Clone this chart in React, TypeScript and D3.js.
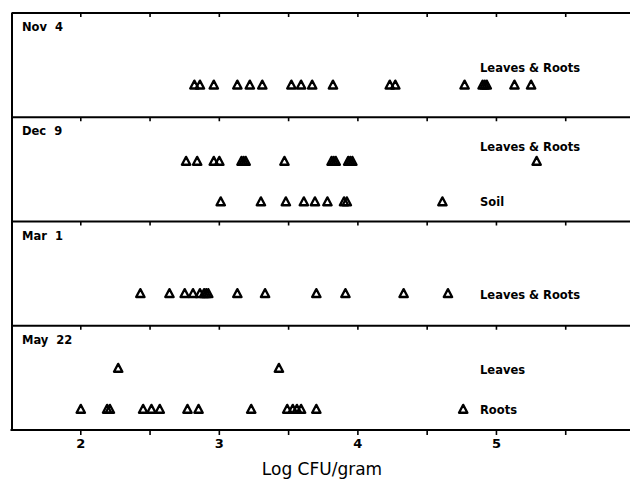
import React from "react";
import * as d3 from "d3";

// ---- data (Log CFU/gram) ----
const panelNames = ["Nov 4", "Dec 9", "Mar 1", "May 22"];
const tickValues = [2, 2.5, 3, 3.5, 4, 4.5, 5, 5.5, 6];
const tickLabels = ["2", "3", "4", "5"];

const nov4LeavesRoots = [2.82, 2.86, 2.96, 3.13, 3.22, 3.31, 3.52, 3.59, 3.67, 3.82, 4.23, 4.27, 4.77, 4.9, 4.915, 4.93, 5.13, 5.25];
const dec9LeavesRoots = [2.76, 2.84, 2.96, 3.0, 3.16, 3.175, 3.19, 3.47, 3.81, 3.825, 3.84, 3.93, 3.945, 3.96, 5.29];
const dec9Soil = [3.01, 3.3, 3.48, 3.61, 3.69, 3.78, 3.9, 3.92, 4.61];
const mar1LeavesRoots = [2.43, 2.64, 2.75, 2.81, 2.86, 2.89, 2.905, 2.92, 3.13, 3.33, 3.7, 3.91, 4.33, 4.65];
const may22Leaves = [2.27, 3.43];
const may22Roots = [2.0, 2.19, 2.21, 2.45, 2.51, 2.57, 2.77, 2.85, 3.23, 3.49, 3.53, 3.56, 3.59, 3.7, 4.76];

// rows: panel index, label, values
const rows = [
  { panel: 0, label: "Leaves & Roots", values: nov4LeavesRoots },
  { panel: 1, label: "Leaves & Roots", values: dec9LeavesRoots },
  { panel: 1, label: "Soil", values: dec9Soil },
  { panel: 2, label: "Leaves & Roots", values: mar1LeavesRoots },
  { panel: 3, label: "Leaves", values: may22Leaves },
  { panel: 3, label: "Roots", values: may22Roots },
];

// layout (offsets inside a panel, px): marker row y, label y
const rowLayout = [
  { y: 72, ly: 55 },
  { y: 44, ly: 30 },
  { y: 84.5, ly: 84.5 },
  { y: 72, ly: 73 },
  { y: 42.5, ly: 44 },
  { y: 83.5, ly: 84 },
];

const W = 630;
const H = 481;
const LEFT = 11.5;
const RIGHT = 635;
const TOP = 13;
const BOTTOM = 430;
const FONT = "'DejaVu Sans', sans-serif";

export default function App() {
  const x = d3.scaleLinear().domain([1.5, 6]).range([LEFT, RIGHT]);
  const y = d3.scaleBand<string>().domain(panelNames).range([TOP, BOTTOM]).padding(0);

  const tri = (cx: number, cy: number) => {
    const p = d3.path();
    p.moveTo(cx, cy - 4.4);
    p.lineTo(cx + 4.2, cy + 3.5);
    p.lineTo(cx - 4.2, cy + 3.5);
    p.closePath();
    return p.toString();
  };

  return (
    <div style={{ position: "absolute", left: 0, top: 0, width: W, height: H, background: "#fff" }}>
      <svg width={W} height={H} style={{ display: "block" }}>
        <rect x={0} y={0} width={W} height={H} fill="#fff" />
        {/* panels */}
        {panelNames.map((name) => {
          const top = y(name)!;
          return (
            <g key={name}>
              <line x1={LEFT} x2={RIGHT} y1={top} y2={top} stroke="#000" strokeWidth={2} />
              {tickValues.map((t) => (
                <line key={t} x1={x(t)} x2={x(t)} y1={top} y2={top + 4} stroke="#000" strokeWidth={1.6} />
              ))}
              <text x={22} y={top + 14} dominantBaseline="central" fontFamily={FONT} fontWeight="bold" fontSize={11.5} fill="#000">
                {name.replace(" ", "\u00a0\u00a0")}
              </text>
            </g>
          );
        })}
        {/* frame */}
        <line x1={LEFT + 0.5} x2={LEFT + 0.5} y1={TOP} y2={BOTTOM} stroke="#000" strokeWidth={2} />
        <line x1={RIGHT} x2={RIGHT} y1={TOP} y2={BOTTOM} stroke="#000" strokeWidth={2} />
        <line x1={LEFT - 1} x2={RIGHT} y1={BOTTOM} y2={BOTTOM} stroke="#000" strokeWidth={2} />
        {tickValues.map((t) => (
          <line key={"b" + t} x1={x(t)} x2={x(t)} y1={BOTTOM} y2={BOTTOM + 5} stroke="#000" strokeWidth={1.6} />
        ))}
        {tickLabels.map((t) => (
          <text key={"l" + t} x={x(+t)} y={443} textAnchor="middle" dominantBaseline="central" fontFamily={FONT} fontWeight="bold" fontSize={13} fill="#000">
            {t}
          </text>
        ))}
        <text x={322} y={469} textAnchor="middle" dominantBaseline="central" fontFamily={FONT} fontSize={17} fill="#000">
          Log CFU/gram
        </text>
        {/* rows */}
        {rows.map((r, i) => {
          const top = y(panelNames[r.panel])!;
          const cy = top + rowLayout[i].y;
          return (
            <g key={i}>
              {r.values.map((v, j) => (
                <path key={j} d={tri(x(v), cy)} fill="none" stroke="#000" strokeWidth={2.3} strokeLinejoin="round" />
              ))}
              <text x={480} y={top + rowLayout[i].ly} dominantBaseline="central" fontFamily={FONT} fontWeight="bold" fontSize={11.5} fill="#000">
                {r.label}
              </text>
            </g>
          );
        })}
      </svg>
    </div>
  );
}
